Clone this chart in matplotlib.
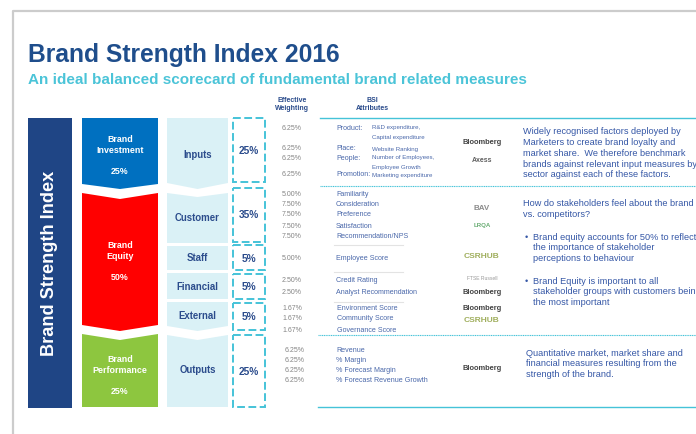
import matplotlib.pyplot as plt
from matplotlib.patches import Polygon, Rectangle

plt.rcParams['font.family'] = ['Liberation Sans', 'DejaVu Sans']

# ---- data ----
title = "Brand Strength Index 2016"
subtitle = "An ideal balanced scorecard of fundamental brand related measures"

pillars = ["Brand\nInvestment", "Brand\nEquity", "Brand\nPerformance"]
pillar_weights = ["25%", "50%", "25%"]

groups = ["Inputs", "Customer", "Staff", "Financial", "External", "Outputs"]
group_weights = ["25%", "35%", "5%", "5%", "5%", "25%"]

inputs_w = ["6.25%", "6.25%", "6.25%", "6.25%"]
customer_w = ["5.00%", "7.50%", "7.50%", "7.50%", "7.50%"]
staff_w = ["5.00%"]
financial_w = ["2.50%", "2.50%"]
external_w = ["1.67%", "1.67%", "1.67%"]
outputs_w = ["6.25%", "6.25%", "6.25%", "6.25%"]

inputs_lbl = ["Product:", "Place:", "People:", "Promotion:"]
inputs_attr = [["R&D expenditure,", "Capital expenditure"], ["Website Ranking"],
               ["Number of Employees,", "Employee Growth"], ["Marketing expenditure"]]
customer_attr = ["Familiarity", "Consideration", "Preference", "Satisfaction", "Recommendation/NPS"]
staff_attr = ["Employee Score"]
financial_attr = ["Credit Rating", "Analyst Recommendation"]
external_attr = ["Environment Score", "Community Score", "Governance Score"]
outputs_attr = ["Revenue", "% Margin", "% Forecast Margin", "% Forecast Revenue Growth"]

desc_inputs = ["Widely recognised factors deployed by", "Marketers to create brand loyalty and",
               "market share.  We therefore benchmark", "brands against relevant input measures by",
               "sector against each of these factors."]
desc_equity = ["How do stakeholders feel about the brand", "vs. competitors?"]
bullet1 = ["Brand equity accounts for 50% to reflect", "the importance of stakeholder",
           "perceptions to behaviour"]
bullet2 = ["Brand Equity is important to all", "stakeholder groups with customers being",
           "the most important"]
desc_outputs = ["Quantitative market, market share and", "financial measures resulting from the",
                "strength of the brand."]

sources = ["Bloomberg", "Axess", "BAV", "LRQA", "CSRHUB", "FTSE Russell", "Bloomberg", "Bloomberg", "CSRHUB", "Bloomberg"]

# ---- colours ----
navy = "#1F4585"
blue = "#0070C0"
red = "#FF0000"
green = "#8DC63F"
pale = "#DAF1F6"
cyan = "#45C3D8"
dark_txt = "#2B4C8C"
attr_txt = "#4A68AA"
desc_txt = "#3557A6"
grey = "#858585"

fig = plt.figure(figsize=(6.96, 4.34), dpi=100)
ax = fig.add_axes([0, 0, 1, 1])
ax.set_xlim(0, 696)
ax.set_ylim(434, 0)
ax.axis("off")

# page frame
ax.plot([13, 13, 696], [434, 11, 11], color="#CCCCCC", lw=1.6, solid_capstyle="butt")

ax.text(28, 55, title, fontsize=17.7, fontweight="bold", color="#1F4E8C", va="center")
ax.text(28, 80, subtitle, fontsize=11.0, fontweight="bold", color="#4BC4D8", va="center")

ax.text(292, 105, "Effective\nWeighting", fontsize=5.0, fontweight="bold", color=dark_txt,
        ha="center", va="center", linespacing=1.2)
ax.text(372, 105, "BSI\nAttributes", fontsize=5.0, fontweight="bold", color=dark_txt,
        ha="center", va="center", linespacing=1.2)

# main navy bar
ax.add_patch(Rectangle((28, 118), 44, 290, color=navy, lw=0))
ax.text(50, 263, "Brand Strength Index", rotation=90, fontsize=13.1, fontweight="bold",
        color="white", ha="center", va="center")

# pillar arrows
x0, x1 = 82, 158
xm = (x0 + x1) / 2
shapes = [
    [(x0, 118), (x1, 118), (x1, 184), (xm, 189), (x0, 184)],
    [(x0, 193), (xm, 199), (x1, 193), (x1, 325), (xm, 331), (x0, 325)],
    [(x0, 334), (xm, 340), (x1, 334), (x1, 407), (x0, 407)],
]
pillar_cols = [blue, red, green]
pillar_y = [145, 251, 365]
for shp, c, name, w, y in zip(shapes, pillar_cols, pillars, pillar_weights, pillar_y):
    ax.add_patch(Polygon(shp, closed=True, color=c, lw=0))
    ax.text(xm, y, name, fontsize=6.4, fontweight="bold", color="white", ha="center",
            va="center", linespacing=1.35)
    ax.text(xm, y + 26, w, fontsize=6.4, fontweight="bold", color="white", ha="center", va="center")

# group boxes
g0, g1 = 167, 228
gm = (g0 + g1) / 2
gshapes = [
    [(g0, 118), (g1, 118), (g1, 183), (gm, 189), (g0, 183)],
    [(g0, 193), (gm, 197), (g1, 193), (g1, 243), (g0, 243)],
    [(g0, 246), (g1, 246), (g1, 270), (g0, 270)],
    [(g0, 273), (g1, 273), (g1, 299), (g0, 299)],
    [(g0, 302), (g1, 302), (g1, 326), (gm, 331), (g0, 326)],
    [(g0, 335), (gm, 340), (g1, 335), (g1, 407), (g0, 407)],
]
group_ty = [155, 218, 258, 287, 316, 370]
for shp, name, y in zip(gshapes, groups, group_ty):
    ax.add_patch(Polygon(shp, closed=True, color=pale, lw=0))
    ax.text(gm, y, name, fontsize=6.9, fontweight="bold", color=dark_txt, ha="center", va="center")

# dashed weight boxes
dash_boxes = [(118, 182), (188, 242), (245, 270), (274, 299), (303, 330), (335, 407)]
dash_ty = [151, 215, 259, 287, 317, 372]
for (ya, yb), w, y in zip(dash_boxes, group_weights, dash_ty):
    ax.add_patch(Rectangle((233, ya), 32, yb - ya, fill=False, edgecolor=cyan, lw=1.4,
                           linestyle=(0, (4, 1.8))))
    ax.text(249, y, w, fontsize=7.3, fontweight="bold", color=dark_txt, ha="center", va="center")

# weighting column and attributes
def rows(weights, attrs, ys, xw=292, xa=336):
    for w, a, y in zip(weights, attrs, ys):
        ax.text(xw, y, w, fontsize=5.0, color=grey, ha="center", va="center")
        ax.text(xa, y, a, fontsize=5.1, color=attr_txt, ha="left", va="center")

inp_y = [128, 149, 158, 175]
for w, lbl, a, y in zip(inputs_w, inputs_lbl, inputs_attr, inp_y):
    ax.text(292, y, w, fontsize=5.0, color=grey, ha="center", va="center")
    ax.text(336, y, lbl, fontsize=5.1, color=attr_txt, ha="left", va="center")
    for k, part in enumerate(a):
        ax.text(372, y + k * 9.5, part, fontsize=4.4, color=attr_txt, ha="left", va="center")

rows(customer_w, customer_attr, [195, 205, 215, 226, 237])
rows(staff_w, staff_attr, [258])
rows(financial_w, financial_attr, [281, 292])
rows(external_w, external_attr, [309, 319, 330], xa=337)
rows(outputs_w, outputs_attr, [350, 361, 371, 381], xw=295)

# separators
ax.plot([320, 696], [118, 118], color=cyan, lw=1.0)
ax.plot([320, 696], [186, 186], color=cyan, lw=0.8, linestyle=(0, (1, 0.6)))
for y in [245, 272, 302]:
    ax.plot([334, 403], [y, y], color="#E3E3E3", lw=0.8)
ax.plot([318, 696], [335, 335], color=cyan, lw=0.8, linestyle=(0, (1, 0.6)))
ax.plot([318, 696], [407, 407], color=cyan, lw=1.0)

# data source logos (as text)
logo_y = [143, 161, 209, 226, 257, 278, 293, 308, 321, 369]
logo_style = {
    "Bloomberg": dict(color="#222222", fontsize=5.4, fontweight="bold"),
    "Axess": dict(color="#444444", fontsize=5.0, fontweight="bold"),
    "BAV": dict(color="#777777", fontsize=5.8, fontweight="bold"),
    "LRQA": dict(color="#4E9E5A", fontsize=4.4, fontweight="bold"),
    "CSRHUB": dict(color="#8FA040", fontsize=6.0, fontweight="bold"),
    "FTSE Russell": dict(color="#888888", fontsize=3.6),
}
for s, y in zip(sources, logo_y):
    ax.text(482, y, s, ha="center", va="center", alpha=0.85, **logo_style[s])

# descriptions
def lines(txt, x, y0, step=10.7):
    for i, t in enumerate(txt):
        ax.text(x, y0 + i * step, t, fontsize=6.6, color=desc_txt, ha="left", va="center",
                clip_on=True)

lines(desc_inputs, 523, 132)
lines(desc_equity, 523, 204)
ax.text(525, 237, "\u2022", fontsize=6.6, color=desc_txt, ha="left", va="center")
lines(bullet1, 533, 237)
ax.text(525, 281, "\u2022", fontsize=6.6, color=desc_txt, ha="left", va="center")
lines(bullet2, 533, 281)
lines(desc_outputs, 526, 353)

fig.savefig("out.png", dpi=100)
